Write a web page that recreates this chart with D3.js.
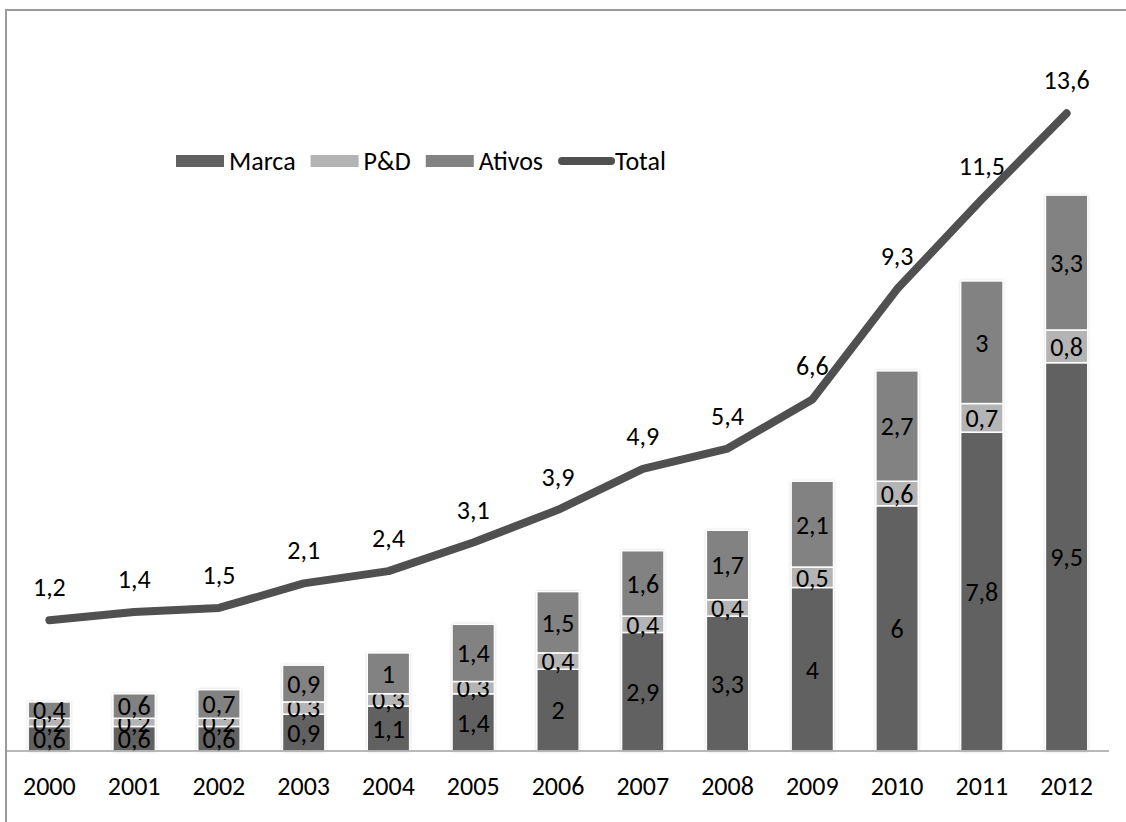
<!DOCTYPE html>
<html>
<head>
<meta charset="utf-8">
<script src="https://cdn.jsdelivr.net/npm/d3@7"></script>
<style>
	body { margin: 0; background: #fff; }
	svg { display: block; font-family: Carlito, Lato, 'Open Sans', sans-serif; }
</style>
</head>
<body>
<svg id="chart"></svg>
<script>
// ========== DATA ==========
var years = ['2000', '2001', '2002', '2003', '2004', '2005', '2006', '2007', '2008', '2009', '2010', '2011', '2012'];
var marca = [0.6, 0.6, 0.6, 0.9, 1.1, 1.4, 2, 2.9, 3.3, 4, 6, 7.8, 9.5];
var pd = [0.2, 0.2, 0.2, 0.3, 0.3, 0.3, 0.4, 0.4, 0.4, 0.5, 0.6, 0.7, 0.8];
var ativos = [0.4, 0.6, 0.7, 0.9, 1, 1.4, 1.5, 1.6, 1.7, 2.1, 2.7, 3, 3.3];
var total = [1.2, 1.4, 1.5, 2.1, 2.4, 3.1, 3.9, 4.9, 5.4, 6.6, 9.3, 11.5, 13.6];
var seriesNames = ['Marca', 'P&D', 'Ativos', 'Total'];

makeChart();

function makeChart() {
	// ========== CONSTANTS ==========
	var width = 1126;
	var height = 822;
	var colors = { 'Marca': '#616161', 'P&D': '#b4b4b4', 'Ativos': '#828282', 'Total': '#505050' };
	var text_color = '#000000';
	var font_size = 26;

	var pt = d3.formatLocale({ decimal: ',', thousands: '.', grouping: [3], currency: ['', ''] });
	var fmt = function(v) { return pt.format('~g')(v); };

	var svg = d3.select('svg#chart')
		.attr('width', width)
		.attr('height', height);

	// soft glow around bars
	var filter = svg.append('defs').append('filter')
		.attr('id', 'glow')
		.attr('x', '-20%').attr('y', '-20%')
		.attr('width', '140%').attr('height', '140%');
	filter.append('feDropShadow')
		.attr('dx', 0).attr('dy', 0)
		.attr('stdDeviation', 1.6)
		.attr('flood-color', '#000')
		.attr('flood-opacity', 0.28);

	// outer frame (right and bottom edges run off the picture)
	svg.append('rect')
		.attr('x', 6).attr('y', 10)
		.attr('width', width + 20).attr('height', height + 20)
		.attr('fill', 'none')
		.attr('stroke', '#9a9a9a')
		.attr('stroke-width', 2);

	// ========== SCALES ==========
	var x = d3.scaleBand()
		.domain(years)
		.range([7, 1109])
		.paddingInner(0.5)
		.paddingOuter(0.25);
	var y = d3.scaleLinear()
		.domain([0, 16])
		.range([751, 97]);
	// secondary axis for the Total line
	var y2 = d3.scaleLinear()
		.domain([-2, 14])
		.range([751, 97]);

	// ========== BARS ==========
	var rows = years.map(function(yr, i) {
		return { year: yr, 'Marca': marca[i], 'P&D': pd[i], 'Ativos': ativos[i] };
	});
	var stack = d3.stack().keys(['Marca', 'P&D', 'Ativos'])(rows);

	// glow per whole column
	svg.append('g').selectAll('rect')
		.data(rows)
		.join('rect')
		.attr('x', function(d) { return x(d.year); })
		.attr('y', function(d) { return y(d['Marca'] + d['P&D'] + d['Ativos']); })
		.attr('width', x.bandwidth())
		.attr('height', function(d) { return y(0) - y(d['Marca'] + d['P&D'] + d['Ativos']); })
		.attr('fill', '#fff')
		.attr('filter', 'url(#glow)');

	var layers = svg.append('g').selectAll('g')
		.data(stack)
		.join('g')
		.attr('fill', function(d) { return colors[d.key]; });

	layers.selectAll('rect')
		.data(function(d) { return d; })
		.join('rect')
		.attr('x', function(d) { return x(d.data.year); })
		.attr('y', function(d) { return y(d[1]); })
		.attr('width', x.bandwidth())
		.attr('height', function(d) { return y(d[0]) - y(d[1]); })
		.attr('stroke', '#fff')
		.attr('stroke-width', 1.5);

	// baseline
	svg.append('line')
		.attr('x1', 7).attr('x2', 1109)
		.attr('y1', y(0)).attr('y2', y(0))
		.attr('stroke', '#a0a0a0')
		.attr('stroke-width', 1.5);

	// bar labels (small segments overlap, as in the original)
	layers.selectAll('text')
		.data(function(d) { return d; })
		.join('text')
		.attr('x', function(d) { return x(d.data.year) + x.bandwidth() / 2; })
		.attr('y', function(d) { return (y(d[0]) + y(d[1])) / 2; })
		.attr('dy', '0.36em')
		.attr('text-anchor', 'middle')
		.attr('fill', text_color)
		.attr('font-size', font_size)
		.text(function(d) { return fmt(+(d[1] - d[0]).toFixed(1)); });

	// ========== X AXIS LABELS ==========
	svg.append('g').selectAll('text')
		.data(years)
		.join('text')
		.attr('x', function(d) { return x(d) + x.bandwidth() / 2; })
		.attr('y', 795)
		.attr('text-anchor', 'middle')
		.attr('fill', text_color)
		.attr('font-size', font_size)
		.text(function(d) { return d; });

	// ========== TOTAL LINE ==========
	var line = d3.line()
		.x(function(d, i) { return x(years[i]) + x.bandwidth() / 2; })
		.y(function(d) { return y2(d); });

	svg.append('path')
		.datum(total)
		.attr('d', line)
		.attr('fill', 'none')
		.attr('stroke', colors['Total'])
		.attr('stroke-width', 8)
		.attr('stroke-linecap', 'round')
		.attr('stroke-linejoin', 'round');

	svg.append('g').selectAll('text')
		.data(total)
		.join('text')
		.attr('x', function(d, i) { return x(years[i]) + x.bandwidth() / 2; })
		.attr('y', function(d) { return y2(d) - 24; })
		.attr('text-anchor', 'middle')
		.attr('fill', text_color)
		.attr('font-size', font_size)
		.text(function(d) { return fmt(d); });

	// ========== LEGEND ==========
	var legend = svg.append('g').attr('transform', 'translate(176, 161)');
	var lx = 0;
	seriesNames.forEach(function(name) {
		var item = legend.append('g').attr('transform', 'translate(' + lx + ',0)');
		var sw;
		if (name === 'Total') {
			item.append('line')
				.attr('x1', 4).attr('x2', 53)
				.attr('y1', 0).attr('y2', 0)
				.attr('stroke', colors[name])
				.attr('stroke-width', 8)
				.attr('stroke-linecap', 'round');
			sw = 57;
		} else {
			item.append('rect')
				.attr('x', 0).attr('y', -6)
				.attr('width', 48).attr('height', 12)
				.attr('fill', colors[name]);
			sw = 53;
		}
		var t = item.append('text')
			.attr('x', sw)
			.attr('y', 0)
			.attr('dy', '0.36em')
			.attr('fill', text_color)
			.attr('font-size', font_size)
			.text(name);
		lx += sw + t.node().getComputedTextLength() + 15;
	});
}
</script>
</body>
</html>
